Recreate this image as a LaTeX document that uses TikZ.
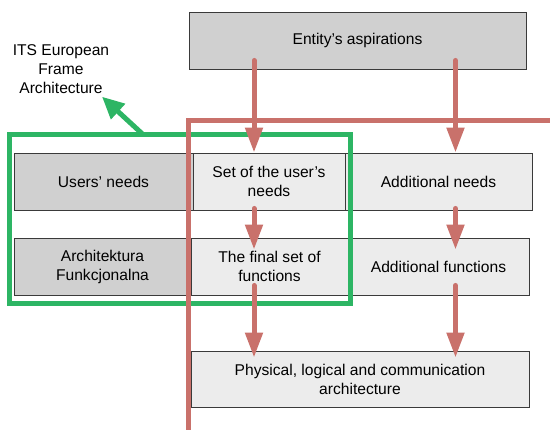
\documentclass[tikz,border=0pt]{standalone}
\usepackage{fontspec}
\setmainfont{Liberation Sans}
\usetikzlibrary{arrows.meta,calc}
\definecolor{boxdark}{HTML}{D0D0D0}
\definecolor{boxlight}{HTML}{ECECEC}
\definecolor{boxline}{HTML}{3A3A3A}
\definecolor{flowred}{HTML}{C9716B}
\definecolor{frameg}{HTML}{2DB564}
\tikzset{
  stage/.style={draw=boxline, line width=0.9pt, fill=boxlight, inner sep=0pt,
    align=center, font=\fontsize{15.6}{19}\selectfont},
  darkstage/.style={stage, fill=boxdark},
  redline/.style={draw=flowred, line width=5pt},
  redarrow/.style={redline, line cap=round, -{Triangle[length=25pt,width=17pt]}},
  greenline/.style={draw=frameg, line width=5pt},
  greenarrow/.style={greenline, -{Triangle[length=22pt,width=20pt]}},
  plain/.style={align=center, font=\fontsize{15.6}{19}\selectfont, inner sep=0pt}
}
\begin{document}
\begin{tikzpicture}[x=1pt,y=-1pt]
\useasboundingbox (0,0) rectangle (550,430);

% top box
\node[darkstage, minimum width=337pt, minimum height=57pt] (ent) at (357.5,40.5) {Entity’s aspirations};

% first row
\node[darkstage, minimum width=179pt, minimum height=57pt] (users) at (103.5,181.5) {Users’ needs};
\node[stage, minimum width=152pt, minimum height=57pt] (uset) at (269,181.5) {Set of the user’s\\needs};
\node[stage, minimum width=187pt, minimum height=57pt] (addn) at (438.5,181.5) {Additional needs};

% second row
\node[darkstage, minimum width=177pt, minimum height=57pt] (arch) at (102.5,266.5) {Architektura\\Funkcjonalna};
\node[stage, minimum width=157pt, minimum height=57pt] (fset) at (269.5,266.5) {The final set of\\functions};
\node[stage, minimum width=181pt, minimum height=57pt] (addf) at (438.5,266.5) {Additional functions};

% bottom box
\node[stage, minimum width=338pt, minimum height=56pt] (phys) at (360,379) {Physical, logical and communication\\architecture};

% frame label
\node[plain] (its) at (61,69) {ITS European\\Frame\\Architecture};

% green frame and its pointer
\coordinate (gA) at (9,134.5);
\coordinate (gB) at (350.5,304);
\coordinate (gP) at (143,134.5);
\draw[greenline] (gA) rectangle (gB);
\draw[greenarrow] (gP) -- ($(its.south)+(41,3)$);

% red boundary line
\coordinate (rBot) at (188.5,432);
\coordinate (rCorner) at (188.5,120.5);
\coordinate (rEnd) at (552,120.5);
\draw[redline] (rBot) -- (rCorner) -- (rEnd);

% flow columns
\coordinate (colL) at (254,0);
\coordinate (colR) at (455.5,0);

\draw[redarrow] ([yshift=9pt]ent.south -| colL) -- (uset.north -| colL);
\draw[redarrow] ([yshift=9pt]ent.south -| colR) -- (addn.north -| colR);
\draw[redarrow] ([yshift=2pt]uset.south -| colL) -- ([yshift=-12pt]fset.north -| colL);
\draw[redarrow] ([yshift=2pt]addn.south -| colR) -- ([yshift=-12pt]addf.north -| colR);
\draw[redarrow] ([yshift=10pt]fset.south -| colL) -- ([yshift=-7pt]phys.north -| colL);
\draw[redarrow] ([yshift=10pt]addf.south -| colR) -- ([yshift=-7pt]phys.north -| colR);
\end{tikzpicture}
\end{document}
